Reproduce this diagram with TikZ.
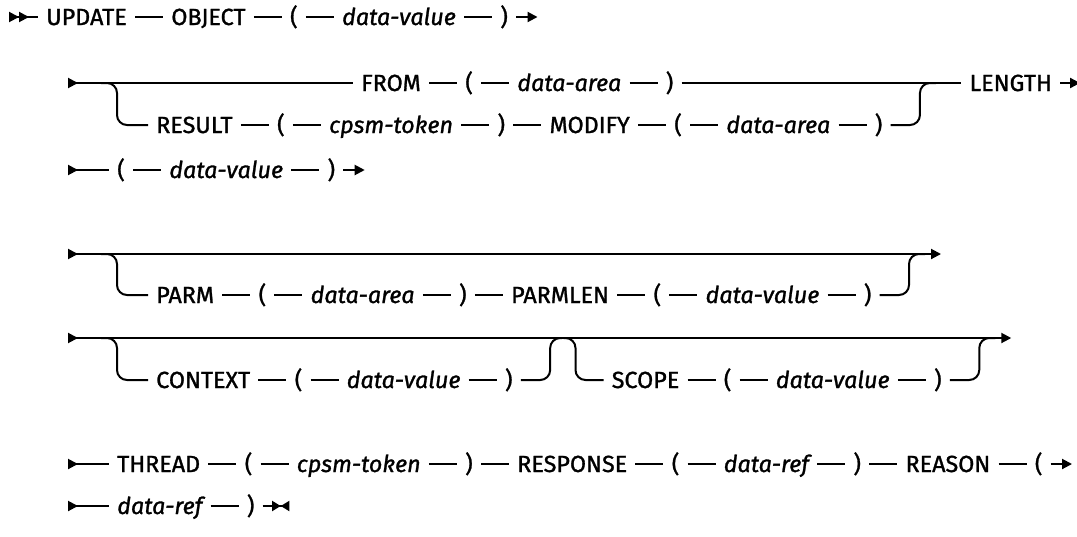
\documentclass[tikz,border=0pt]{standalone}
\usepackage{fontspec}
\setmainfont{Fira Sans}[FakeBold=1.2]
\usetikzlibrary{positioning,arrows.meta}
\begin{document}
\begin{tikzpicture}[x=0.75pt,y=-0.75pt,
    rail/.style={line width=1.5pt},
    kw/.style={inner xsep=6pt,inner ysep=0pt,text height=12pt,text depth=0pt,
        font=\fontsize{17.5}{20}\selectfont},
    var/.style={kw,font=\fontsize{17.5}{20}\selectfont\itshape},
    railin/.style={{Triangle[reversed,length=7.5pt,width=7.5pt]}-},
    railbegin/.style={{Triangle[reversed,length=7.5pt,width=7.5pt]Triangle[reversed,length=7.5pt,width=7.5pt]}-},
    railout/.style={-{Triangle[length=7.5pt,width=7.5pt]}},
    railthru/.style={{Triangle[reversed,length=7.5pt,width=7.5pt]}-{Triangle[length=7.5pt,width=7.5pt]}},
    railend/.style={-{Triangle[length=6.5pt,width=7.5pt]Triangle[reversed,length=6.5pt,width=7.5pt]}},
    railbend/.style={rail,rounded corners=7.5pt},
    node distance=21pt]
    \useasboundingbox (0,0) rectangle (1077,536);
    % row 1
    \coordinate (s1) at (9,17);
    \node[kw,anchor=west] (update) at (38,17) {UPDATE};
    \node[kw,right=of update] (object) {OBJECT};
    \node[kw,right=of object] (lp1) {(};
    \node[var,right=of lp1] (dv1) {data-value};
    \node[kw,right=of dv1] (rp1) {)};
    \coordinate[right=16pt of rp1] (e1);
    \draw[rail,railbegin] (s1) -- (update);
    \draw[rail] (update) -- (object) (object) -- (lp1) (lp1) -- (dv1) (dv1) -- (rp1);
    \draw[rail,railout] (rp1) -- (e1);
    % row 2
    \coordinate (s2) at (68,83);
    \coordinate (b2) at (117,83);
    \node[kw,anchor=west] (from) at (353,83) {FROM};
    \node[kw,right=of from] (lp2) {(};
    \node[var,right=of lp2] (da2) {data-area};
    \node[kw,right=of da2] (rp2) {)};
    \node[kw,anchor=west] (result) at (148,125) {RESULT};
    \node[kw,right=of result] (lp3) {(};
    \node[var,right=of lp3] (tok3) {cpsm-token};
    \node[kw,right=of tok3] (rp3) {)};
    \node[kw,right=of rp3] (modify) {MODIFY};
    \node[kw,right=of modify] (lp4) {(};
    \node[var,right=of lp4] (da4) {data-area};
    \node[kw,right=of da4] (rp4) {)};
    \coordinate (j2) at ([xshift=22pt]rp4.east |- s2);
    \node[kw,right=31pt of j2] (length) {LENGTH};
    \coordinate[right=15pt of length] (e2);
    \draw[rail,railin] (s2) -- (from);
    \draw[rail] (from) -- (lp2) (lp2) -- (da2) (da2) -- (rp2) (rp2) -- (length);
    \draw[rail,railout] (length) -- (e2);
    \draw[railbend] ([xshift=-12pt]b2) -- (b2) |- (result);
    \draw[rail] (result) -- (lp3) (lp3) -- (tok3) (tok3) -- (rp3) (rp3) -- (modify)
        (modify) -- (lp4) (lp4) -- (da4) (da4) -- (rp4);
    \draw[railbend] (rp4) -| (j2) -- ([xshift=12pt]j2);
    % row 3
    \coordinate (s3) at (68,170);
    \node[kw,anchor=west] (lp5) at (109,170) {(};
    \node[var,right=of lp5] (dv5) {data-value};
    \node[kw,right=of dv5] (rp5) {)};
    \coordinate[right=16pt of rp5] (e3);
    \draw[rail,railin] (s3) -- (lp5);
    \draw[rail] (lp5) -- (dv5) (dv5) -- (rp5);
    \draw[rail,railout] (rp5) -- (e3);
    % row 4
    \coordinate (s4) at (68,254);
    \coordinate (b4) at (117,254);
    \node[kw,anchor=west] (parm) at (148,295) {PARM};
    \node[kw,right=of parm] (lp6) {(};
    \node[var,right=of lp6] (da6) {data-area};
    \node[kw,right=of da6] (rp6) {)};
    \node[kw,right=of rp6] (parmlen) {PARMLEN};
    \node[kw,right=of parmlen] (lp7) {(};
    \node[var,right=of lp7] (dv7) {data-value};
    \node[kw,right=of dv7] (rp7) {)};
    \coordinate (j4) at ([xshift=22pt]rp7.east |- s4);
    \coordinate (e4) at ([xshift=24pt]j4);
    \draw[rail,railthru] (s4) -- (e4);
    \draw[railbend] ([xshift=-12pt]b4) -- (b4) |- (parm);
    \draw[rail] (parm) -- (lp6) (lp6) -- (da6) (da6) -- (rp6) (rp6) -- (parmlen)
        (parmlen) -- (lp7) (lp7) -- (dv7) (dv7) -- (rp7);
    \draw[railbend] (rp7) -| (j4) -- ([xshift=12pt]j4);
    % row 5
    \coordinate (s5) at (68,338);
    \coordinate (b5) at (117,338);
    \node[kw,anchor=west] (context) at (148,380) {CONTEXT};
    \node[kw,right=of context] (lp8) {(};
    \node[var,right=of lp8] (dv8) {data-value};
    \node[kw,right=of dv8] (rp8) {)};
    \coordinate (j5) at ([xshift=22pt]rp8.east |- s5);
    \coordinate (b5b) at ([xshift=19pt]j5);
    \node[kw,anchor=west] (scope) at ([xshift=21pt]b5b |- context) {SCOPE};
    \node[kw,right=of scope] (lp9) {(};
    \node[var,right=of lp9] (dv9) {data-value};
    \node[kw,right=of dv9] (rp9) {)};
    \coordinate (j5b) at ([xshift=22pt]rp9.east |- s5);
    \coordinate (e5) at ([xshift=24pt]j5b);
    \draw[rail,railthru] (s5) -- (e5);
    \draw[railbend] ([xshift=-12pt]b5) -- (b5) |- (context);
    \draw[rail] (context) -- (lp8) (lp8) -- (dv8) (dv8) -- (rp8);
    \draw[railbend] (rp8) -| (j5) -- ([xshift=9pt]j5);
    \draw[railbend] ([xshift=-9pt]b5b) -- (b5b) |- (scope);
    \draw[rail] (scope) -- (lp9) (lp9) -- (dv9) (dv9) -- (rp9);
    \draw[railbend] (rp9) -| (j5b) -- ([xshift=12pt]j5b);
    % row 6
    \coordinate (s6) at (68,464);
    \node[kw,anchor=west] (thread) at (109,464) {THREAD};
    \node[kw,right=of thread] (lp10) {(};
    \node[var,right=of lp10] (tok10) {cpsm-token};
    \node[kw,right=of tok10] (rp10) {)};
    \node[kw,right=of rp10] (response) {RESPONSE};
    \node[kw,right=of response] (lp11) {(};
    \node[var,right=of lp11] (dr11) {data-ref};
    \node[kw,right=of dr11] (rp11) {)};
    \node[kw,right=of rp11] (reason) {REASON};
    \node[kw,right=of reason] (lp12) {(};
    \coordinate[right=16pt of lp12] (e6);
    \draw[rail,railin] (s6) -- (thread);
    \draw[rail] (thread) -- (lp10) (lp10) -- (tok10) (tok10) -- (rp10) (rp10) -- (response)
        (response) -- (lp11) (lp11) -- (dr11) (dr11) -- (rp11) (rp11) -- (reason)
        (reason) -- (lp12);
    \draw[rail,railout] (lp12) -- (e6);
    % row 7
    \coordinate (s7) at (68,506);
    \node[var,anchor=west] (dr13) at (109,506) {data-ref};
    \node[kw,right=of dr13] (rp13) {)};
    \coordinate[right=20pt of rp13] (e7);
    \draw[rail,railin] (s7) -- (dr13);
    \draw[rail] (dr13) -- (rp13);
    \draw[rail,railend] (rp13) -- (e7);
\end{tikzpicture}
\end{document}
